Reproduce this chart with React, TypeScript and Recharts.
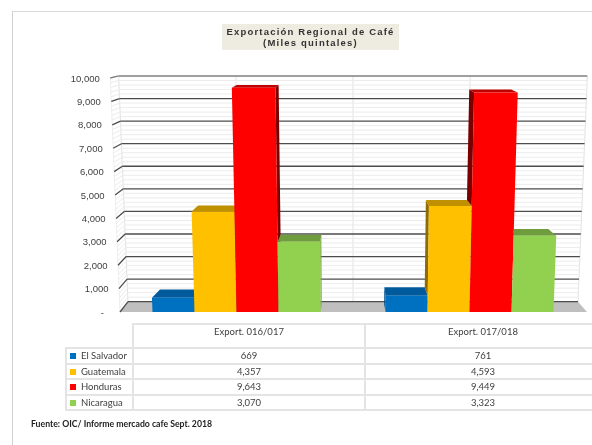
import { Bar, BarChart, CartesianGrid, XAxis, YAxis } from "recharts";

const categories = ["Export. 016/017", "Export. 017/018"];
const seriesNames = ["El Salvador", "Guatemala", "Honduras", "Nicaragua"];
const elSalvador = [669, 761];
const guatemala = [4357, 4593];
const honduras = [9643, 9449];
const nicaragua = [3070, 3323];
const seriesValues = [elSalvador, guatemala, honduras, nicaragua];
const majorTicks = [0, 1000, 2000, 3000, 4000, 5000, 6000, 7000, 8000, 9000, 10000];
const gridValues = [
  0, 200, 400, 600, 800, 1000, 1200, 1400, 1600, 1800, 2000, 2200, 2400, 2600, 2800, 3000, 3200, 3400, 3600, 3800, 4000,
  4200, 4400, 4600, 4800, 5000, 5200, 5400, 5600, 5800, 6000, 6200, 6400, 6600, 6800, 7000, 7200, 7400, 7600, 7800, 8000,
  8200, 8400, 8600, 8800, 9000, 9200, 9400, 9600, 9800, 10000,
];

const faces = [
  { front: "#0070c0", top: "#015a9b", side: "#01508a" },
  { front: "#ffc000", top: "#bf9000", side: "#8f6c00" },
  { front: "#ff0000", top: "#c00000", side: "#7a0000" },
  { front: "#92d050", top: "#6f9c3d", side: "#7fb546" },
];

const rows = categories.map((name, i) => ({
  name,
  s0: seriesValues[0][i],
  s1: seriesValues[1][i],
  s2: seriesValues[2][i],
  s3: seriesValues[3][i],
}));

// fake perspective, fitted by eye to the excel 3d look
const BASE_Y = 312;
const PLOT_TOP = 78;
const CENTER_X = 353;
const WALL_SHRINK = 0.0343;
const BAR_SHRINK = 0.04;
const fullHeight = BASE_Y - PLOT_TOP;

const widen = (h: number) => 1 + (0.04 * h) / 225;
const wallY = (h: number) => 301.7 - h * 0.9646;
const barFrontY = (h: number) => Math.min(BASE_Y, BASE_Y + 1.5 - h);
const barBackY = (h: number) => wallY(h) + 0.25 * (barFrontY(h) - wallY(h));
const frontX = (x: number, h: number) => CENTER_X + (x - CENTER_X) * widen(h);
const backX = (x: number, h: number, shrink: number) => CENTER_X + (x - CENTER_X) * (1 - shrink) * widen(h);
const pts = (list: number[][]) => list.map((p) => p.join(",")).join(" ");

const makeBarShape = (seriesIndex: number) => (props: any) => {
  const { x, width, height, index } = props;
  const colors = faces[seriesIndex];
  const value = seriesValues[seriesIndex][index];
  const pxPerUnit = height / value;
  const h = height;
  const x0 = x;
  const x1 = x + width;
  const yf = barFrontY(h);
  const yb = barBackY(h);
  const leftOfCenter = x1 <= CENTER_X;

  const frontFace = [
    [frontX(x0, 0), BASE_Y],
    [frontX(x1, 0), BASE_Y],
    [frontX(x1, h), yf],
    [frontX(x0, h), yf],
  ];

  // the series paint left to right, so on the right group the neighbours need handling by hand
  const leftValue = seriesIndex > 0 ? seriesValues[seriesIndex - 1][index] : 0;
  const leftH = leftValue * pxPerUnit;
  const blockedBackLeft = !leftOfCenter && leftH > h;

  const topFace = [
    [frontX(x0, h), yf],
    [frontX(x1, h), yf],
    [backX(x1, h, BAR_SHRINK), yb],
    [blockedBackLeft ? frontX(x0, h) : backX(x0, h, BAR_SHRINK), yb],
  ];

  let sideFace: number[][] | null = null;
  if (leftOfCenter) {
    sideFace = [
      [frontX(x1, 0), BASE_Y],
      [frontX(x1, h), yf],
      [backX(x1, h, BAR_SHRINK), yb],
      [backX(x1, 0, BAR_SHRINK), barBackY(0)],
    ];
  } else if (leftH < h) {
    sideFace = [
      [frontX(x0, leftH), barFrontY(leftH)],
      [frontX(x0, h), yf],
      [backX(x0, h, BAR_SHRINK), yb],
      [backX(x0, leftH, BAR_SHRINK), barBackY(leftH)],
    ];
  }

  return (
    <g>
      {sideFace && <polygon points={pts(sideFace)} fill={colors.side} />}
      <polygon points={pts(topFace)} fill={colors.top} />
      <polygon points={pts(frontFace)} fill={colors.front} />
    </g>
  );
};

const gridLine = (props: any) => {
  const { x1, x2, y1 } = props;
  const h = BASE_Y - y1;
  const value = Math.round((h / fullHeight) * 10000);
  const major = value % 1000 === 0;
  const y = wallY(h);
  const stroke = major ? (value === 10000 ? "#7f7f7f" : "#4d4d4d") : "#ececec";
  const width = major ? 1.3 : 1;
  const band = (x2 - x1) / 2;
  return (
    <g key={value}>
      {value === 0 && (
        <>
          <polygon
            points={pts([
              [x1, BASE_Y],
              [x2 + 1, BASE_Y],
              [backX(x2, 0, WALL_SHRINK), y],
              [backX(x1, 0, WALL_SHRINK), y],
            ])}
            fill="#bfbfbf"
          />
          {[x1, x1 + band / 2, x1 + band, x1 + (band * 3) / 2, x2].map((vx) => (
            <line
              key={vx}
              x1={backX(vx, 0, WALL_SHRINK)}
              y1={y}
              x2={backX(vx, fullHeight, WALL_SHRINK)}
              y2={wallY(fullHeight)}
              stroke="#e2e2e2"
            />
          ))}
          <line x1={x1} y1={BASE_Y} x2={frontX(x1, fullHeight)} y2={PLOT_TOP} stroke="#eeeeee" />
        </>
      )}
      <line x1={backX(x1, h, WALL_SHRINK)} y1={y} x2={backX(x2, h, WALL_SHRINK)} y2={y} stroke={stroke} strokeWidth={width} />
      <line x1={frontX(x1, h)} y1={y1} x2={backX(x1, h, WALL_SHRINK)} y2={y} stroke={stroke} strokeWidth={width} />
    </g>
  );
};

const YTick = (props: any) => {
  const { y, payload } = props;
  const h = BASE_Y - y;
  const label = payload.value === 0 ? "-" : payload.value.toLocaleString("en-US");
  const right = payload.value === 0 ? 104 : frontX(120, h) - 10.5;
  return (
    <text x={right} y={y} textAnchor="end" dominantBaseline="central" fontSize={9.5} fill="#404040">
      {label}
    </text>
  );
};

const cellBorder = "2px solid #e4e4e4";

function DataTable() {
  return (
    <table
      style={{
        position: "absolute",
        left: 65,
        top: 323,
        width: 535,
        borderCollapse: "collapse",
        tableLayout: "fixed",
        fontFamily: "Lato",
        fontSize: 9.5,
        color: "#404040",
      }}
    >
      <colgroup>
        <col style={{ width: 67 }} />
        <col style={{ width: 232 }} />
        <col style={{ width: 236 }} />
      </colgroup>
      <tbody>
        <tr style={{ height: 24 }}>
          <td style={{ padding: 0 }} />
          {categories.map((c) => (
            <td key={c} style={{ border: cellBorder, padding: "0 0 9px 0", textAlign: "center" }}>
              {c}
            </td>
          ))}
        </tr>
        {seriesNames.map((name, s) => (
          <tr key={name} style={{ height: 15.6 }}>
            <td style={{ border: cellBorder, padding: "0 0 0 3px", whiteSpace: "nowrap" }}>
              <span
                style={{ display: "inline-block", width: 6, height: 6, marginRight: 5, background: faces[s].front }}
              />
              {name}
            </td>
            {categories.map((c, i) => (
              <td key={c} style={{ border: cellBorder, padding: 0, textAlign: "center" }}>
                {seriesValues[s][i].toLocaleString("en-US")}
              </td>
            ))}
          </tr>
        ))}
      </tbody>
    </table>
  );
}

export default function App() {
  return (
    <div
      style={{
        position: "absolute",
        left: 0,
        top: 0,
        width: 592,
        height: 445,
        overflow: "hidden",
        background: "#fff",
        fontFamily: "Liberation Sans",
        filter: "blur(0.35px)",
      }}
    >
      <div style={{ position: "absolute", left: 12, top: 11, width: 580, height: 434, borderTop: "1px solid #d9d9d9", borderLeft: "1px solid #d0d0d0" }} />
      <BarChart
        width={592}
        height={445}
        data={rows}
        barGap={0}
        barCategoryGap={32.5}
        margin={{ top: PLOT_TOP, right: 6, bottom: 445 - BASE_Y, left: 0 }}
        style={{ position: "absolute", left: 0, top: 0 }}
      >
        <CartesianGrid horizontal={gridLine} vertical={false} horizontalValues={gridValues} />
        <XAxis dataKey="name" hide />
        <YAxis
          width={120}
          domain={[0, 10000]}
          ticks={majorTicks}
          interval={0}
          axisLine={false}
          tickLine={false}
          tick={<YTick />}
        />
        {seriesNames.map((name, i) => (
          <Bar key={name} dataKey={`s${i}`} name={name} shape={makeBarShape(i)} isAnimationActive={false} />
        ))}
      </BarChart>
      <div
        style={{
          position: "absolute",
          left: 222,
          top: 24,
          width: 177,
          height: 26,
          background: "#eeebe0",
          textAlign: "center",
          fontSize: 9.5,
          lineHeight: "11px",
          fontWeight: "bold",
          letterSpacing: 1.2,
          color: "#333",
          paddingTop: 2,
          boxSizing: "border-box",
        }}
      >
        Exportación Regional de Café
        <br />
        (Miles quintales)
      </div>
      <DataTable />
      <div style={{ position: "absolute", left: 31, top: 418, fontFamily: "Lato", fontWeight: "bold", fontSize: 8.7, color: "#222" }}>
        Fuente: OIC/ Informe mercado cafe Sept. 2018
      </div>
    </div>
  );
}
